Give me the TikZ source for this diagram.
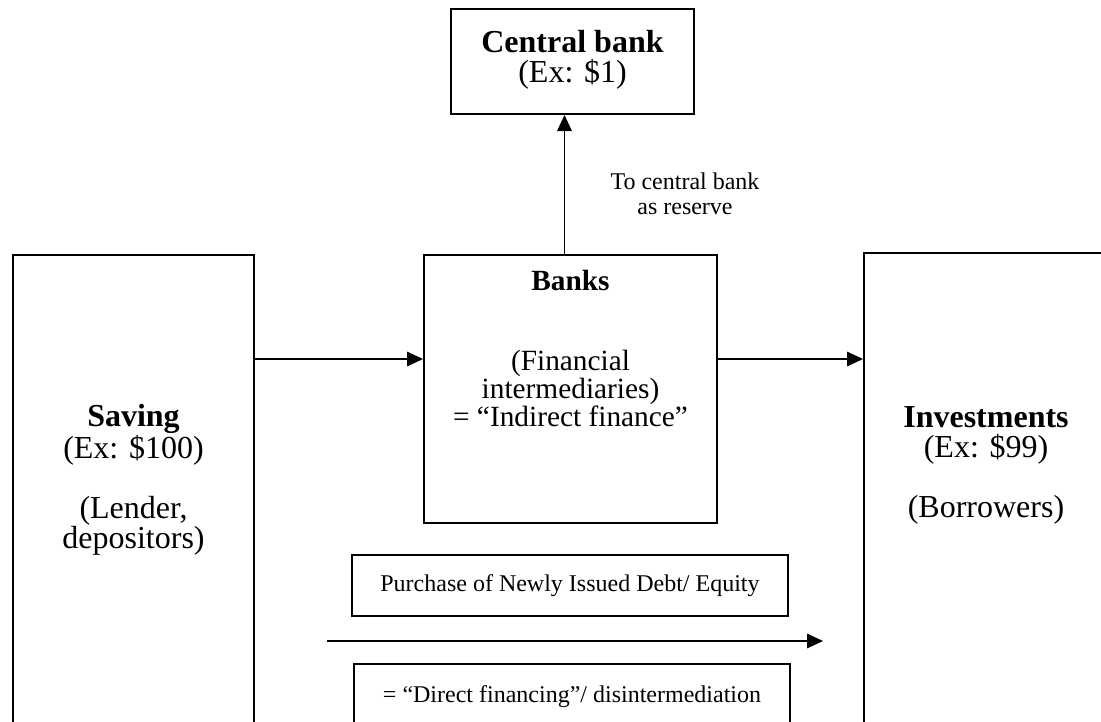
\documentclass[tikz,border=0pt]{standalone}
\usepackage{fontspec}
\setmainfont{Liberation Serif}
\usetikzlibrary{arrows.meta}
\begin{document}
\begin{tikzpicture}[x=0.75pt,y=-0.75pt,
  box/.style={draw=black,line width=1.5pt,inner sep=0pt,rectangle},
  flow/.style={draw=black,line width=0.8pt,-{Triangle[length=12pt,width=11pt]}},
  big/.style={font=\fontsize{24}{22.5}\selectfont,align=center,inner sep=0pt},
  mid/.style={font=\fontsize{22}{21}\selectfont,align=center,inner sep=0pt},
  small/.style={font=\fontsize{18}{19}\selectfont,align=center,inner sep=0pt}]
\useasboundingbox (0,0) rectangle (1101,722);
\clip (0,0) rectangle (1101,722);
% boxes
\node[box,minimum width=182.25pt,minimum height=78.75pt] (central) at (572.5,61.5) {};
\node[box,minimum width=219.75pt,minimum height=201pt] (banks) at (570.5,389) {};
\node[box,minimum width=180.75pt,minimum height=378.75pt] (saving) at (133.5,507.5) {};
\node[box,minimum width=183pt,minimum height=380.25pt] (invest) at (986,506.5) {};
\node[box,minimum width=327pt,minimum height=45.75pt] (purchase) at (570,585.5) {};
\node[box,minimum width=327pt,minimum height=72pt] (direct) at (572,712) {};
% texts
\node[big] (centraltxt) at (572.5,60) {\textbf{Central bank}\\(Ex: \$1)};
\node[mid] (bankstxt) at (570.5,348) {\textbf{Banks}\\[39pt](Financial\\intermediaries)\\= “Indirect finance”};
\node[big] (savingtxt) at (133.5,480) {\textbf{Saving}\\(Ex: \$100)\\[22.5pt](Lender,\\depositors)};
\node[big] (investtxt) at (986,465) {\textbf{Investments}\\(Ex: \$99)\\[22.5pt](Borrowers)};
\node[small] (purchasetxt) at (purchase.center) {Purchase of Newly Issued Debt/ Equity};
\node[small] (directtxt) at (572,697) {= “Direct financing”/ disintermediation};
\node[small] (lbl) at (685,194) {To central bank\\as reserve};
% connectors
\coordinate (row) at (0,359);
\draw[flow] (saving.east |- row) -- (banks.west |- row);
\draw[flow] (banks.east |- row) -- (invest.west |- row);
\draw[flow] ([xshift=-4.5pt]banks.north) -- ([xshift=-4.5pt]banks.north |- central.south);
\coordinate (dstart) at (327,641);
\coordinate (dend) at (823,641);
\draw[flow] (dstart) -- (dend);
\end{tikzpicture}
\end{document}
